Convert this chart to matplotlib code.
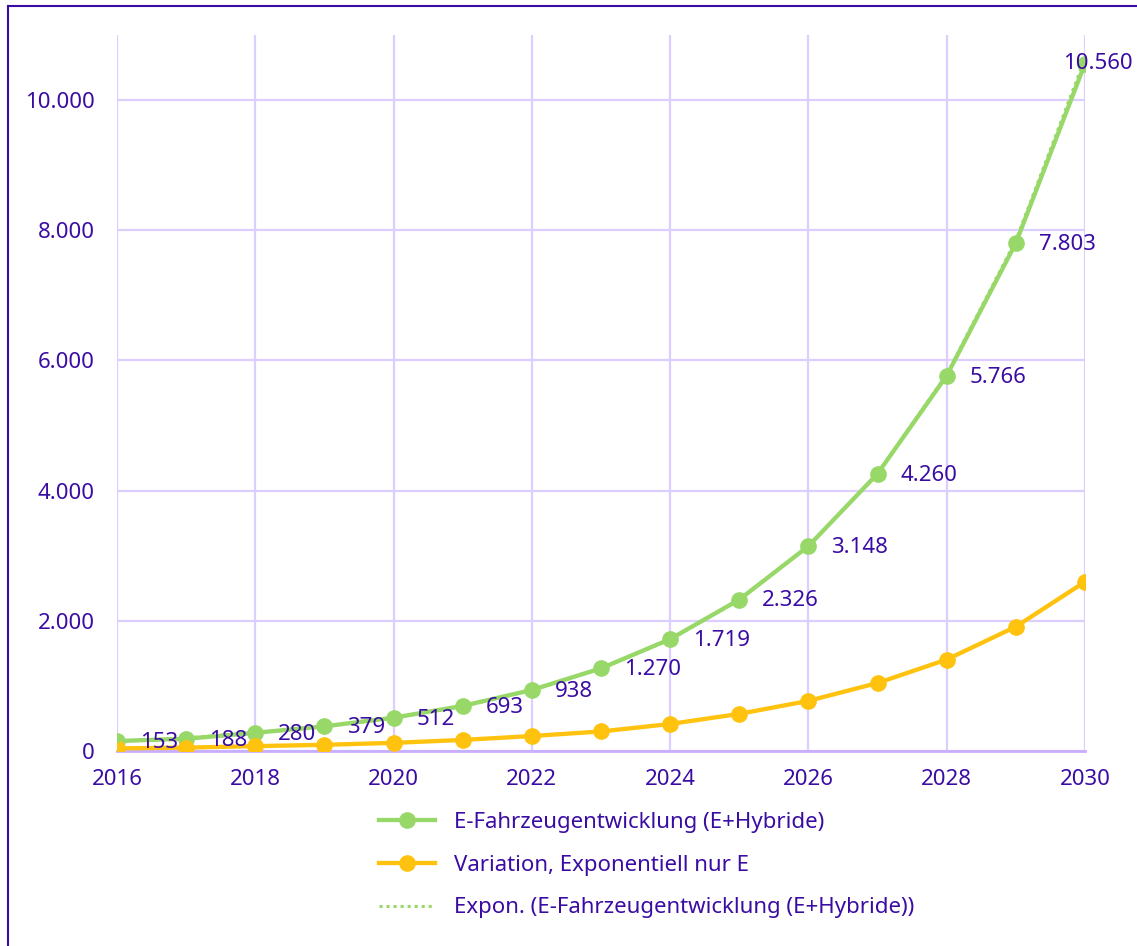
import numpy as np
import matplotlib
matplotlib.use("Agg")
import matplotlib.pyplot as plt
from matplotlib.lines import Line2D
from matplotlib.ticker import FuncFormatter

plt.rcParams["font.family"] = ["Noto Sans", "DejaVu Sans"]

years = np.arange(2016, 2031)
e_hybrid = [153, 188, 280, 379, 512, 693, 938, 1270, 1719, 2326, 3148, 4260, 5766, 7803, 10560]
nur_e = [40, 52, 75, 95, 125, 170, 230, 300, 415, 570, 770, 1045, 1405, 1910, 2600]
labels = ["E-Fahrzeugentwicklung (E+Hybride)",
          "Variation, Exponentiell nur E",
          "Expon. (E-Fahrzeugentwicklung (E+Hybride))"]

txt = "#3a0ca3"
green = "#98d868"
orange = "#ffc20e"
grid_c = "#dccfff"

fig = plt.figure(figsize=(11.37, 9.46), dpi=100)
ax = fig.add_axes([117/1137, 1-751/946, (1085-117)/1137, (751-35)/946])

# exponential trendline, fitted the way the spreadsheet does (ln y linear in x)
b, a = np.polyfit(years, np.log(e_hybrid), 1)
trend = np.exp(a + b*years)

ax.plot(years, e_hybrid, color=green, lw=3.1, marker="o", ms=11, label=labels[0], zorder=3)
ax.plot(years, nur_e, color=orange, lw=3.1, marker="o", ms=11, label=labels[1], zorder=3)
ax.plot(years, trend, color=green, lw=2.2, ls=(0, (1, 1.3)), label=labels[2], zorder=4)

fmt = lambda v: "{:,.0f}".format(v).replace(",", ".")
for i, (x, y) in enumerate(zip(years, e_hybrid)):
    if i == len(years) - 1:
        ax.annotate(fmt(y), (x, y), xytext=(-16, 0), textcoords="offset points",
                    ha="left", va="center", color=txt, fontsize=16, zorder=5)
    else:
        ax.annotate(fmt(y), (x, y), xytext=(16.5, -1), textcoords="offset points",
                    ha="left", va="center", color=txt, fontsize=16, zorder=5)

ax.set_xlim(2016, 2030)
ax.set_ylim(0, 11000)
ax.set_xticks(np.arange(2016, 2031, 2))
ax.set_yticks(np.arange(0, 10001, 2000))
ax.yaxis.set_major_formatter(FuncFormatter(lambda v, p: fmt(v)))
ax.tick_params(length=0, labelsize=16, labelcolor=txt)
ax.tick_params(axis="x", pad=13)
ax.tick_params(axis="y", pad=16)
ax.grid(True, color=grid_c, lw=1.6)
ax.set_axisbelow(True)
for s in ["top", "right", "left"]:
    ax.spines[s].set_visible(False)
ax.spines["bottom"].set_color("#c8aeff")
ax.spines["bottom"].set_linewidth(2)
ax.spines["bottom"].set_zorder(2.5)

fig.legend(loc="center left", bbox_to_anchor=(368/1137, 1-865/946), frameon=False,
           fontsize=16, labelcolor=txt, handlelength=2.5, handletextpad=0.85,
           labelspacing=0.98, borderpad=0)

# outer frame (left and top edges visible)
fig.add_artist(Line2D([8/1137, 8/1137], [0, 1-6/946], color=txt, lw=1.5))
fig.add_artist(Line2D([8/1137, 1], [1-6/946, 1-6/946], color=txt, lw=1.5))

fig.savefig("out.png", dpi=100)
